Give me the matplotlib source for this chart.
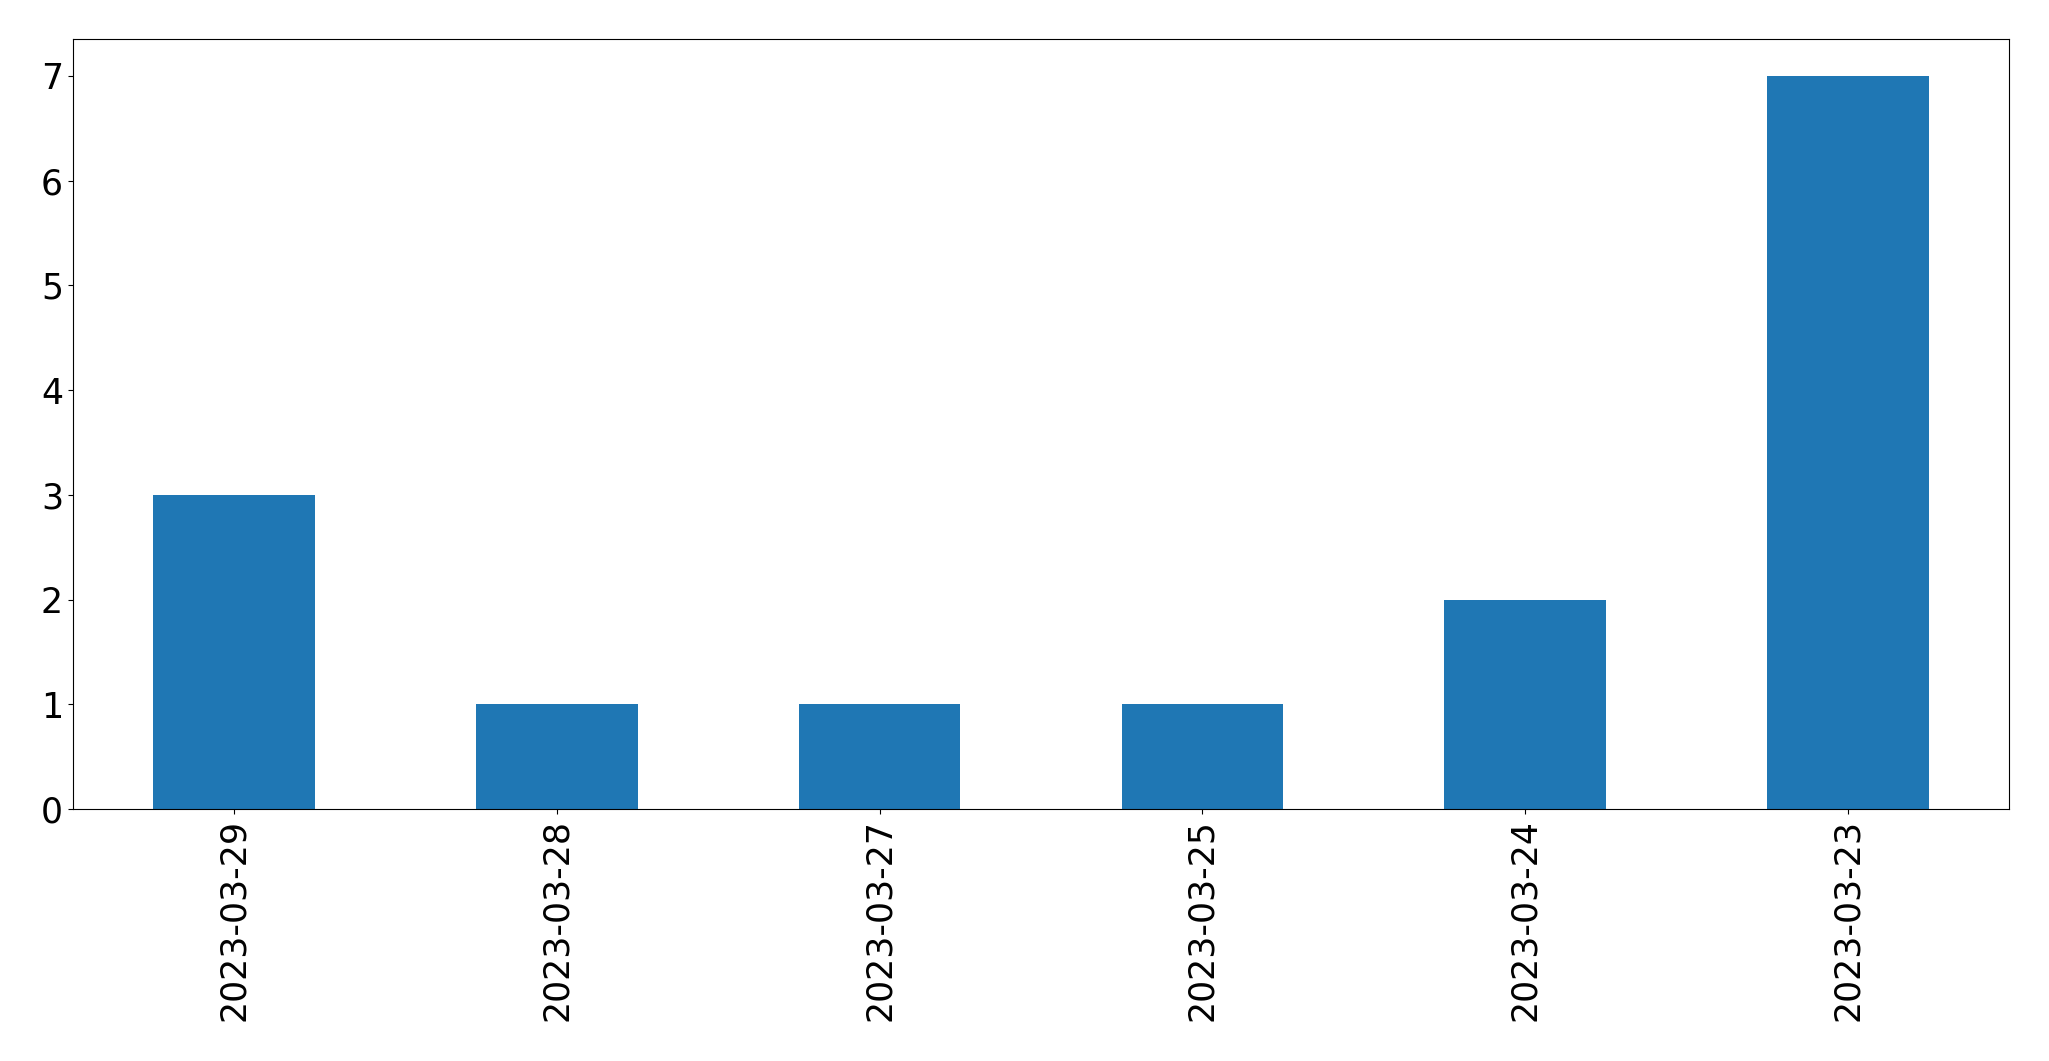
import matplotlib
matplotlib.use("Agg")
import matplotlib.pyplot as plt

dates = ["2023-03-29", "2023-03-28", "2023-03-27", "2023-03-25", "2023-03-24", "2023-03-23"]
counts = [3, 1, 1, 1, 2, 7]

fig = plt.figure(figsize=(20.49, 10.61), dpi=100)
W, H = 2049, 1061
left, right, top, bottom = 72.7, 2009.3, 39.3, 809.0
ax = fig.add_axes([left / W, 1 - bottom / H, (right - left) / W, (bottom - top) / H])

x = list(range(len(dates)))
ax.bar(x, counts, width=0.5, color="#1f77b4")
ax.set_xlim(-0.5, len(dates) - 0.5)
ax.set_ylim(0, max(counts) * 1.05)
ax.set_xticks(x)
ax.set_xticklabels(dates, rotation=90)
ax.tick_params(axis="both", labelsize=25)

fig.savefig("out.png", dpi=100)
